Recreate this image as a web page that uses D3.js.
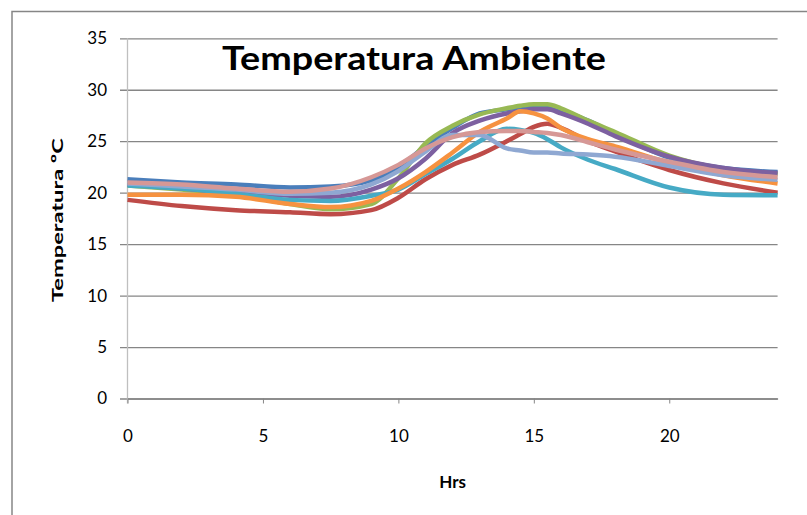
<!DOCTYPE html>
<html>
<head>
<meta charset="utf-8">
<script src="https://cdn.jsdelivr.net/npm/d3@7"></script>
<style>
    body { margin: 0; background: #fff; }
    svg { display: block; font-family: Lato, "Open Sans", "DejaVu Sans", sans-serif; }
</style>
</head>
<body>
<svg id="chart" width="807" height="515"></svg>
<script>
// readings, one value per hour mark
const hours = [0, 2, 4, 6, 7.5, 9, 10, 11, 12, 13, 14, 14.5, 15, 15.5, 16, 17, 18, 20, 22, 24]

const serie1 = [21.3, 21.0, 20.8, 20.5, 20.6, 21.2, 22.5, 24.5, 26.3, 27.7, 28.1, 28.3, 28.4, 28.3, 28.0, 27.0, 25.7, 23.4, 22.4, 22.0],
    serie2 = [19.3, 18.7, 18.3, 18.1, 17.9, 18.3, 19.5, 21.3, 22.7, 23.7, 25.0, 25.7, 26.4, 26.7, 26.3, 25.0, 24.0, 22.2, 20.9, 20.0],
    serie3 = [20.7, 20.3, 19.8, 18.9, 18.4, 18.9, 21.4, 24.8, 26.5, 27.6, 28.2, 28.45, 28.6, 28.6, 28.2, 27.0, 25.9, 23.6, 22.3, 21.8],
    serie4 = [20.8, 20.4, 20.0, 19.7, 19.6, 20.3, 21.4, 23.3, 25.8, 27.0, 27.7, 27.9, 28.1, 28.1, 27.7, 26.7, 25.5, 23.5, 22.4, 21.9],
    serie5 = [20.7, 20.4, 19.9, 19.3, 19.2, 19.7, 20.3, 21.8, 23.3, 25.0, 26.2, 26.1, 25.8, 25.2, 24.4, 23.2, 22.3, 20.5, 19.8, 19.75],
    serie6 = [19.8, 19.8, 19.6, 18.9, 18.6, 19.2, 20.4, 22.0, 23.9, 25.9, 27.2, 27.9, 27.7, 27.2, 26.3, 25.2, 24.5, 22.9, 21.7, 20.9],
    serie7 = [20.9, 20.6, 20.3, 19.9, 20.0, 20.8, 22.1, 24.0, 25.6, 25.6, 24.3, 24.1, 23.9, 23.9, 23.8, 23.7, 23.5, 22.6, 21.7, 21.25],
    serie8 = [21.0, 20.8, 20.4, 20.1, 20.4, 21.5, 22.7, 24.3, 25.4, 25.9, 26.0, 26.0, 25.9, 25.8, 25.6, 24.9, 24.2, 23.0, 22.0, 21.5]

const series = [serie1, serie2, serie3, serie4, serie5, serie6, serie7, serie8],
    colors = ["#4a7ebb", "#be4b48", "#98b954", "#7d60a0", "#46aac5", "#f69240", "#8fa8d2", "#d69896"]

const xTicks = [0, 5, 10, 15, 20],
    yTicks = [0, 5, 10, 15, 20, 25, 30, 35]

const title = "Temperatura Ambiente",
    xTitle = "Hrs",
    yTitle = "Temperatura ºC"


let svg = d3.select("#chart"),
    plotLeft = 127.5, plotRight = 777.6,
    plotTop = 38.3, plotBottom = 398.5,
    fontFamily = "Lato, 'Open Sans', sans-serif"

let x = d3.scaleLinear().domain([0, 24]).range([plotLeft, plotRight]),
    y = d3.scaleLinear().domain([0, 35]).range([plotBottom, plotTop])

// outer chart frame, only its left and top edges show in the picture
svg.append("rect")
    .attr("x", 12)
    .attr("y", 11.5)
    .attr("width", 820)
    .attr("height", 540)
    .attr("fill", "none")
    .attr("stroke", "#868686")
    .attr("stroke-width", 1.5)

// horizontal grid with stubs, labels on the left
let yAxis = svg.append("g")
    .attr("transform", "translate(" + plotRight + ",0)")
    .call(d3.axisLeft(y).tickValues(yTicks).tickSize(plotRight - 120).tickPadding(13))
    .attr("font-family", fontFamily)

yAxis.select(".domain").remove()
yAxis.selectAll("line").attr("stroke", "#868686").attr("stroke-width", 1.3)
yAxis.selectAll("text").attr("font-size", 17).attr("fill", "#000")

svg.append("line")
    .attr("x1", plotLeft).attr("x2", plotLeft)
    .attr("y1", plotTop).attr("y2", plotBottom + 5)
    .attr("stroke", "#bfbfbf")
    .attr("stroke-width", 1.3)

let xAxis = svg.append("g")
    .attr("transform", "translate(0," + plotBottom + ")")
    .call(d3.axisBottom(x).tickValues(xTicks).tickSizeInner(5).tickSizeOuter(0).tickPadding(26))
    .attr("font-family", fontFamily)

xAxis.select(".domain").attr("stroke", "#868686").attr("stroke-width", 1.3)
xAxis.selectAll("line").attr("stroke", "#868686")
xAxis.selectAll("text").attr("font-size", 17).attr("fill", "#000")

let line = d3.line()
    .x((d, i) => x(hours[i]))
    .y(d => y(d))
    .curve(d3.curveMonotoneX)

svg.append("g")
    .selectAll("path")
    .data(series)
    .join("path")
    .attr("d", line)
    .attr("fill", "none")
    .attr("stroke", (d, i) => colors[i])
    .attr("stroke-width", 4.5)
    .attr("stroke-linejoin", "round")

svg.append("text")
    .attr("x", 222)
    .attr("y", 70)
    .attr("font-size", 32)
    .attr("font-weight", "bold")
    .attr("textLength", 384)
    .attr("lengthAdjust", "spacingAndGlyphs")
    .text(title)

svg.append("text")
    .attr("x", (plotLeft + plotRight) / 2)
    .attr("y", 488)
    .attr("text-anchor", "middle")
    .attr("font-size", 17)
    .attr("font-weight", "bold")
    .text(xTitle)

svg.append("text")
    .attr("transform", "translate(63,220) rotate(-90)")
    .attr("text-anchor", "middle")
    .attr("font-size", 16)
    .attr("font-weight", "bold")
    .attr("textLength", 164)
    .attr("lengthAdjust", "spacingAndGlyphs")
    .text(yTitle)
</script>
</body>
</html>
